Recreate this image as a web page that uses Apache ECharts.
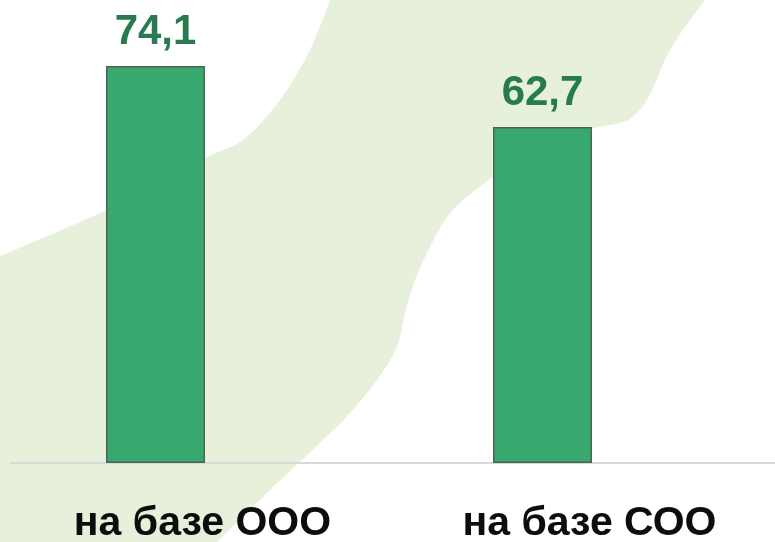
<!DOCTYPE html>
<html>
<head>
<meta charset="utf-8">
<script src="https://cdn.jsdelivr.net/npm/echarts@6/dist/echarts.min.js"></script>
<style>
html,body{margin:0;padding:0;background:#fff;overflow:hidden;width:775px;height:542px;}
#main{position:absolute;left:-38px;top:0;width:813px;height:542px;}
</style>
</head>
<body>
<div id="main"></div>
<script>
const categories = ['на базе ООО', 'на базе СОО'];
const values = [74.1, 62.7];

const SHIFT = 38; // chart canvas starts 38px left of the page
const chart = echarts.init(document.getElementById('main'));
const blobPoints = [
  [-40, 273], [0, 256], [50, 235], [107, 210], [160, 185], [207, 157], [243, 140],
  [280, 100], [310, 50], [330, 0], [340, -30], [730, -30], [705, 0], [670, 50],
  [647, 100], [628, 120], [595, 128], [540, 145], [493, 177], [463, 200], [445, 220],
  [430, 247], [415, 280], [405, 313], [397, 347], [377, 380], [350, 413], [323, 440],
  [270, 490], [217, 542], [185, 575], [-40, 575]
].map(p => [p[0] + SHIFT, p[1]]);

chart.setOption({
  animation: false,
  backgroundColor: '#ffffff',
  graphic: [
    { type: 'polygon', z: -10, silent: true,
      shape: { points: blobPoints, smooth: 0.3 },
      style: { fill: '#e6f0da' } },
    { type: 'line', z: -5, silent: true,
      shape: { x1: 10 + SHIFT, y1: 463, x2: 775 + SHIFT, y2: 463 },
      style: { stroke: '#d9d9d9', lineWidth: 2 } }
  ],
  grid: { left: 0, right: 39, top: 34.4, bottom: 79, containLabel: false, outerBoundsMode: 'none' },
  xAxis: {
    type: 'category',
    data: categories,
    axisLine: { show: false },
    axisTick: { show: false },
    axisLabel: {
      margin: 39,
      padding: [0, 0, 0, 94],
      fontFamily: 'Liberation Sans',
      fontWeight: 'bold',
      fontSize: 41,
      lineHeight: 44,
      color: '#0d0d0d'
    }
  },
  yAxis: {
    type: 'value', min: 0, max: 80,
    show: false,
    splitLine: { show: false }
  },
  series: [{
    type: 'bar',
    data: values,
    barWidth: 99,
    itemStyle: { color: '#38a86f', borderColor: '#4a6455', borderWidth: 1.5 },
    label: {
      show: true,
      position: 'top',
      distance: 13,
      formatter: p => String(p.value).replace('.', ','),
      fontFamily: 'Liberation Sans',
      fontWeight: 'bold',
      fontSize: 42,
      color: '#287a50'
    }
  }]
});
</script>
</body>
</html>
